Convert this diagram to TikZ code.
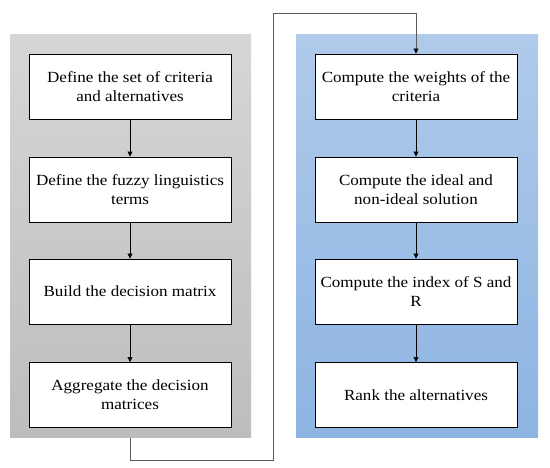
\documentclass[tikz,border=0pt]{standalone}
\usepackage{fontspec}
\setmainfont{Liberation Serif}[FakeStretch=1.1]
\usetikzlibrary{arrows.meta}
\definecolor{grayTop}{HTML}{D6D6D6}
\definecolor{grayBot}{HTML}{BDBDBD}
\definecolor{blueTop}{HTML}{B0CAEA}
\definecolor{blueBot}{HTML}{8DB4E2}
\definecolor{connGray}{HTML}{5A5A5A}
\tikzset{
  panelgray/.style={rectangle, inner sep=0pt, top color=grayTop, bottom color=grayBot, draw=none, minimum width=241pt, minimum height=403pt},
  panelblue/.style={rectangle, inner sep=0pt, top color=blueTop, bottom color=blueBot, draw=none, minimum width=242pt, minimum height=403pt},
  stepbox/.style={rectangle, draw=black, fill=white, line width=0.9pt, minimum width=202pt, minimum height=65pt, align=center, inner sep=2pt, font=\fontsize{15.5}{19}\selectfont},
  arr/.style={draw=black, line width=0.6pt, -{Triangle[length=5pt,width=5pt]}},
  conn/.style={draw=connGray, line width=0.7pt, -{Triangle[length=5pt,width=5pt,color=black]}}
}
\begin{document}
\begin{tikzpicture}[x=1pt,y=-1pt]
\useasboundingbox (0,0) rectangle (550,468);
\node[panelgray] (pl) at (130.5,236.5) {};
\node[panelblue] (pr) at (417,236.5) {};
\node[stepbox] (a1) at (130,86.5) {Define the set of criteria\\and alternatives};
\node[stepbox] (a2) at (130,189.5) {Define the fuzzy linguistics\\terms};
\node[stepbox] (a3) at (130,291.5) {Build the decision matrix};
\node[stepbox] (a4) at (130,395) {Aggregate the decision\\matrices};
\node[stepbox] (b1) at (416,86.5) {Compute the weights of the\\criteria};
\node[stepbox] (b2) at (416,189.5) {Compute the ideal and\\non-ideal solution};
\node[stepbox] (b3) at (416,291.5) {Compute the index of S and\\R};
\node[stepbox] (b4) at (416,395) {Rank the alternatives};
\draw[arr] (a1) -- (a2);
\draw[arr] (a2) -- (a3);
\draw[arr] (a3) -- (a4);
\draw[arr] (b1) -- (b2);
\draw[arr] (b2) -- (b3);
\draw[arr] (b3) -- (b4);
\coordinate (cb) at (273,460);
\coordinate (ct) at (273,13);
\draw[conn] (a4.south |- pl.south) |- (cb) -- (ct) -| (b1.north);
\end{tikzpicture}
\end{document}
